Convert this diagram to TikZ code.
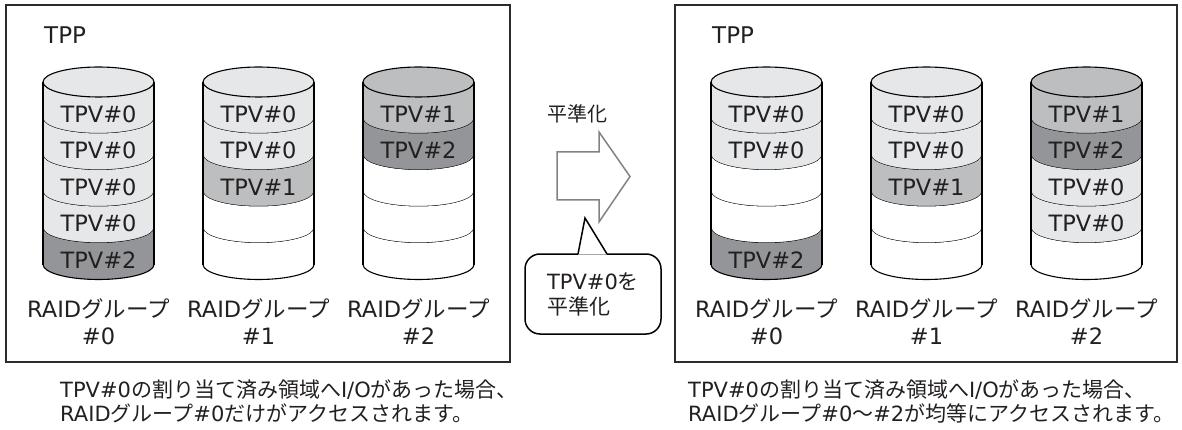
\documentclass[tikz,border=0pt]{standalone}
\usepackage{fontspec}
\setmainfont{Noto Sans CJK JP}
\newfontfamily\lat{DejaVu Sans}
\definecolor{tpvA}{HTML}{E6E7E8}
\definecolor{tpvB}{HTML}{BCBEC0}
\definecolor{tpvC}{HTML}{939598}
\definecolor{framec}{HTML}{2B2B2B}
\definecolor{arrowc}{HTML}{808285}
\definecolor{textc}{HTML}{231F20}
\def\rx{55.5}
\def\ry{15}
\def\dy{36.5}
\def\ctop{82}
\def\nolab{-}
\tikzset{
  cylline/.style={line width=1.1pt, draw=black},
  tpv/.style={font=\fontsize{22.5}{26}\selectfont\lat, inner sep=0pt, text=textc},
  grplabel/.style={font=\fontsize{22.5}{27}\selectfont, inner sep=0pt, align=center, text=textc},
  frame/.style={draw=framec, line width=2pt, inner sep=0pt},
  caption/.style={font=\fontsize{21}{24}\selectfont, inner sep=0pt, align=left, anchor=north west, text=textc},
  bubble/.style={draw=black, line width=1.5pt, fill=white, rounded corners=15pt, minimum width=136pt, minimum height=80pt, align=left, font=\fontsize{21}{25}\selectfont, text=textc, inner sep=0pt},
  bigarrow/.style={draw=arrowc, line width=1.5pt, fill=white, line join=miter}
}
\newcommand\cyl[4]{%
  \foreach [count=\i from 0] \col/\lab in {#4} {
    \pgfmathsetmacro\ya{\ctop+\i*\dy}
    \pgfmathsetmacro\yb{\ya+\dy}
    \fill[\col] (#1-\rx,\ya) arc[start angle=180,end angle=0,x radius=\rx,y radius=\ry]
       -- (#1+\rx,\yb) arc[start angle=0,end angle=180,x radius=\rx,y radius=\ry] -- cycle;
    \draw[cylline] (#1-\rx,\yb) arc[start angle=180,end angle=0,x radius=\rx,y radius=\ry];
    \ifx\lab\nolab\else \node[tpv] (#2-\i) at (#1,\ya+32) {\lab}; \fi
  }
  \filldraw[cylline, fill=#3] (#1,\ctop) ellipse[x radius=\rx, y radius=\ry];
  \draw[cylline] (#1-\rx,\ctop) -- (#1-\rx,\ctop+5*\dy);
  \draw[cylline] (#1+\rx,\ctop) -- (#1+\rx,\ctop+5*\dy);
}
\begin{document}
\begin{tikzpicture}[x=1pt,y=-1pt]
\useasboundingbox (0,0) rectangle (1182,430);
% frames
\node[frame, minimum width=504pt, minimum height=357pt] (lframe) at (258,183.5) {};
\node[frame, minimum width=502pt, minimum height=357pt] (rframe) at (926,183.5) {};
\node[tpv, anchor=west, font=\fontsize{23}{26}\selectfont\lat] (ltpp) at (44,35.5) {TPP};
\node[tpv, anchor=west, font=\fontsize{23}{26}\selectfont\lat] (rtpp) at (712,35.5) {TPP};
% left cylinders
\cyl{98.5}{l0}{tpvA}{tpvA/TPV\#0, tpvA/TPV\#0, tpvA/TPV\#0, tpvA/TPV\#0, tpvC/TPV\#2}
\cyl{258.5}{l1}{tpvA}{tpvA/TPV\#0, tpvA/TPV\#0, tpvB/TPV\#1, white/-, white/-}
\cyl{418.5}{l2}{tpvB}{tpvB/TPV\#1, tpvC/TPV\#2, white/-, white/-, white/-}
% right cylinders
\cyl{766.5}{r0}{tpvA}{tpvA/TPV\#0, tpvA/TPV\#0, white/-, white/-, tpvC/TPV\#2}
\cyl{926.5}{r1}{tpvA}{tpvA/TPV\#0, tpvA/TPV\#0, tpvB/TPV\#1, white/-, white/-}
\cyl{1086.5}{r2}{tpvB}{tpvB/TPV\#1, tpvC/TPV\#2, tpvA/TPV\#0, tpvA/TPV\#0, white/-}
% group labels
\node[grplabel] (lg0) at (98.5,322) {{\lat RAID}グループ\\{\lat\#0}};
\node[grplabel] (lg1) at (258.5,322) {{\lat RAID}グループ\\{\lat\#1}};
\node[grplabel] (lg2) at (418.5,322) {{\lat RAID}グループ\\{\lat\#2}};
\node[grplabel] (rg0) at (766.5,322) {{\lat RAID}グループ\\{\lat\#0}};
\node[grplabel] (rg1) at (926.5,322) {{\lat RAID}グループ\\{\lat\#1}};
\node[grplabel] (rg2) at (1086.5,322) {{\lat RAID}グループ\\{\lat\#2}};
% arrow
\draw[bigarrow] (557,152) -- (599,152) -- (599,132) -- (630,176.5) -- (599,222) -- (599,200) -- (557,200) -- cycle;
\node[inner sep=0pt, font=\fontsize{20}{24}\selectfont, text=textc] (lev) at (577,114) {平準化};
% callout
\node[bubble] (call) at (593,294) {{\lat TPV\#0}を\\平準化};
\coordinate (tip) at (585,218);
\coordinate (pl) at (578,254);
\coordinate (pr) at (607,254);
\fill[white] ([yshift=-0.6pt]pl) -- (tip) -- ([yshift=-0.6pt]pr) -- cycle;
\draw[line width=1.5pt, line join=miter] (pl) -- (tip) -- (pr);
% captions
\node[caption] (lcap) at (60,380) {{\lat TPV\#0}の割り当て済み領域へ{\lat I/O}があった場合、\\{\lat RAID}グループ{\lat\#0}だけがアクセスされます。};
\node[caption] (rcap) at (688,380) {{\lat TPV\#0}の割り当て済み領域へ{\lat I/O}があった場合、\\{\lat RAID}グループ{\lat\#0}〜{\lat\#2}が均等にアクセスされます。};
\end{tikzpicture}
\end{document}
